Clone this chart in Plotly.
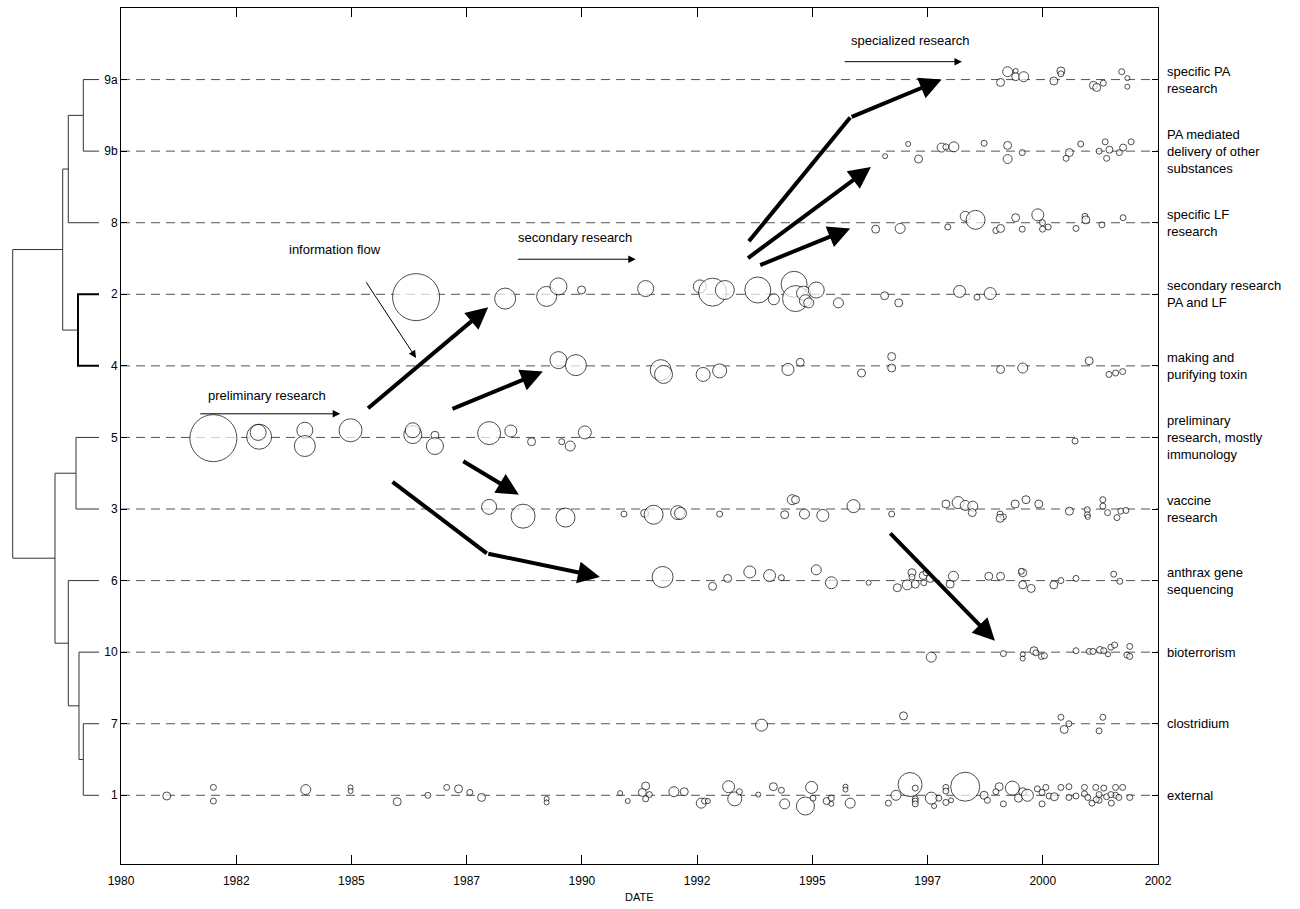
import numpy as np
import plotly.graph_objects as go

W, H = 1300, 909

# ---- categories (bottom to top) ----
ROW_CODES = ["1", "7", "10", "6", "3", "5", "4", "2", "8", "9b", "9a"]
ROW_TOPICS = [
    "external",
    "clostridium",
    "bioterrorism",
    "anthrax gene<br>sequencing",
    "vaccine<br>research",
    "preliminary<br>research, mostly<br>immunology",
    "making and<br>purifying toxin",
    "secondary research<br>PA and LF",
    "specific LF<br>research",
    "PA mediated<br>delivery of other<br>substances",
    "specific PA<br>research",
]

# ---- publications per cluster: date, vertical jitter (rows), bubble size ----
YEAR_9A = [1998.66, 1998.81, 1998.98, 1998.98, 1999.15, 1999.79, 1999.94, 1999.94, 2000.63, 2000.70, 2000.84, 2001.23, 2001.35, 2001.35]
DY_9A = [-0.04, 0.11, 0.12, 0.04, 0.04, -0.02, 0.12, 0.08, -0.08, -0.11, -0.05, 0.11, 0.02, -0.10]
SIZE_9A = [8, 10, 5, 8, 10, 8, 8, 6, 8, 8, 6, 6, 5, 5]

YEAR_9B = [1996.21, 1996.70, 1996.92, 1997.41, 1997.50, 1997.67, 1998.31, 1998.81, 1998.81, 1999.12, 2000.12, 2000.05, 2000.36, 2000.75, 2000.88, 2000.97, 2000.91, 2001.18, 2001.26, 2001.43]
DY_9B = [-0.07, 0.10, -0.11, 0.05, 0.06, 0.06, 0.11, 0.08, -0.11, -0.02, -0.02, -0.10, 0.10, 0.00, 0.13, 0.02, -0.10, -0.02, 0.05, 0.13]
SIZE_9B = [5, 5, 8, 9, 6, 10, 6, 8, 9, 6, 8, 6, 6, 6, 6, 7, 6, 6, 7, 6]

YEAR_8 = [1996.01, 1996.53, 1997.54, 1997.91, 1998.13, 1998.56, 1998.66, 1998.98, 1999.12, 1999.45, 1999.55, 1999.55, 1999.67, 2000.26, 2000.45, 2000.47, 2000.81, 2001.26]
DY_8 = [-0.09, -0.08, -0.06, 0.09, 0.04, -0.11, -0.08, 0.07, -0.09, 0.11, 0.00, -0.09, -0.06, -0.08, 0.09, 0.04, -0.03, 0.07]
SIZE_8 = [8, 10, 6, 10, 19, 6, 8, 8, 6, 12, 6, 6, 6, 6, 6, 8, 6, 6]

YEAR_2 = [1986.26, 1988.15, 1989.03, 1989.28, 1989.77, 1991.13, 1992.28, 1992.55, 1992.81, 1993.51, 1993.85, 1994.28, 1994.31, 1994.48, 1994.52, 1994.59, 1994.75, 1995.22, 1996.20, 1996.50, 1997.79, 1998.16, 1998.44]
DY_2 = [-0.04, -0.06, -0.03, 0.11, 0.06, 0.08, 0.11, 0.03, 0.06, 0.06, -0.07, 0.14, -0.06, 0.015, -0.09, -0.12, 0.06, -0.12, -0.02, -0.12, 0.04, -0.04, 0.01]
SIZE_2 = [47, 21, 20, 17, 8, 16, 13, 28, 19, 26, 11, 26, 26, 14, 12, 10, 16, 10, 8, 8, 12, 6, 12]

YEAR_4 = [1989.28, 1989.65, 1991.45, 1991.51, 1992.35, 1992.70, 1994.15, 1994.41, 1995.71, 1996.35, 1996.35, 1998.66, 1999.13, 2000.54, 2000.96, 2001.10, 2001.25]
DY_4 = [0.08, 0.01, -0.06, -0.12, -0.12, -0.07, -0.05, 0.05, -0.10, 0.13, -0.03, -0.05, -0.03, 0.07, -0.12, -0.10, -0.08]
SIZE_4 = [17, 21, 21, 18, 14, 14, 12, 8, 8, 8, 8, 8, 10, 8, 6, 6, 6]

YEAR_5 = [1981.96, 1982.93, 1982.91, 1983.90, 1983.90, 1984.87, 1986.19, 1986.19, 1986.66, 1986.66, 1987.81, 1988.27, 1988.71, 1989.35, 1989.53, 1989.84, 2000.24]
DY_5 = [-0.01, 0.01, 0.07, 0.10, -0.12, 0.10, 0.04, 0.10, 0.03, -0.12, 0.06, 0.09, -0.06, -0.06, -0.12, 0.07, -0.05]
SIZE_5 = [47, 25, 16, 16, 21, 23, 18, 15, 8, 17, 23, 12, 8, 6, 10, 13, 6]

YEAR_3 = [1987.81, 1988.53, 1989.43, 1990.67, 1991.11, 1991.30, 1991.81, 1991.87, 1992.70, 1994.08,
          1994.24, 1994.31, 1994.50, 1994.89, 1995.54, 1996.35, 1997.50, 1997.76, 1997.91, 1998.07,
          1998.06, 1998.65, 1998.72, 1998.65, 1998.97, 1999.20, 1999.47, 2000.12, 2000.50, 2000.50,
          2000.51, 2000.83, 2000.83, 2000.93, 2001.13, 2001.21, 2001.32]
DY_3 = [0.03, -0.10, -0.12, -0.07, -0.06, -0.08, -0.05, -0.06, -0.07, -0.08,
        0.13, 0.13, -0.07, -0.09, 0.04, -0.07, 0.07, 0.09, 0.05, 0.04,
        -0.05, -0.07, -0.11, -0.13, 0.07, 0.13, 0.07, -0.03, -0.01, -0.08,
        -0.11, 0.13, 0.04, -0.05, -0.12, -0.03, -0.02]
SIZE_3 = [15, 24, 19, 6, 8, 19, 14, 12, 6, 8,
          10, 8, 10, 12, 13, 6, 8, 12, 10, 10,
          8, 6, 6, 8, 8, 8, 8, 8, 6, 6,
          5, 6, 6, 6, 6, 6, 6]

YEAR_6 = [1991.49, 1992.55, 1992.87, 1993.34, 1993.76, 1994.01, 1994.75, 1995.07, 1995.86, 1996.47,
          1996.68, 1996.78, 1996.78, 1996.85, 1997.02, 1997.03, 1997.08, 1997.17, 1997.59, 1997.66,
          1998.41, 1998.66, 1999.13, 1999.10, 1999.13, 1999.31, 1999.79, 1999.94, 2000.26, 2001.06,
          2001.19]
DY_6 = [0.05, -0.08, 0.03, 0.12, 0.07, 0.04, 0.15, -0.03, -0.03, -0.10,
        -0.06, 0.11, 0.05, -0.05, 0.07, -0.03, 0.11, 0.03, -0.05, 0.06,
        0.06, 0.06, 0.11, 0.13, -0.06, -0.11, -0.06, 0.00, 0.03, 0.09,
        -0.01]
SIZE_6 = [21, 8, 8, 12, 12, 6, 10, 12, 5, 8,
          10, 8, 6, 8, 8, 6, 6, 8, 8, 10,
          8, 8, 8, 6, 8, 8, 8, 6, 6, 6,
          6]

YEAR_10 = [1997.19, 1998.72, 1999.13, 1999.13, 1999.37, 1999.41, 1999.53, 1999.59, 2000.26, 2000.54,
           2000.62, 2000.77, 2000.85, 2000.94, 2001.00, 2001.08, 2001.40, 2001.34, 2001.40]
DY_10 = [-0.07, -0.02, -0.03, -0.09, 0.02, -0.01, -0.06, -0.05, 0.02, 0.01,
         0.01, 0.03, 0.02, -0.03, 0.07, 0.10, 0.08, -0.04, -0.06]
SIZE_10 = [10, 6, 5, 5, 8, 6, 6, 6, 6, 6,
           6, 7, 6, 5, 6, 6, 6, 6, 6]

YEAR_7 = [1993.59, 1996.60, 1999.94, 2000.11, 2000.01, 2000.83, 2000.75]
DY_7 = [-0.02, 0.11, 0.09, 0.00, -0.08, 0.09, -0.10]
SIZE_7 = [12, 8, 6, 6, 8, 6, 6]

YEAR_1 = [1980.97, 1981.96, 1981.96, 1983.92, 1984.87, 1984.87, 1985.86, 1986.51, 1986.91, 1987.16,
          1987.40, 1987.65, 1989.03, 1989.03, 1990.59, 1990.75, 1991.13, 1991.06, 1991.21, 1991.13,
          1991.73, 1991.95, 1992.31, 1992.38, 1992.45, 1992.89, 1993.02, 1993.12, 1993.52, 1993.84,
          1994.01, 1994.08, 1994.65, 1994.52, 1994.68, 1994.97, 1995.07, 1995.07, 1995.37, 1995.37,
          1995.47, 1996.28, 1996.44, 1996.74, 1996.85, 1996.85, 1996.85, 1996.85, 1997.19, 1997.25,
          1997.35, 1997.50, 1997.50, 1997.50, 1997.61, 1997.91, 1998.31, 1998.38, 1998.63, 1998.56,
          1998.72, 1998.91, 1999.04, 1999.13, 1999.23, 1999.44, 1999.54, 1999.54, 1999.62, 1999.69,
          1999.80, 1999.94, 2000.11, 2000.11, 2000.26, 2000.44, 2000.44, 2000.51, 2000.60, 2000.68,
          2000.75, 2000.85, 2000.91, 2001.01, 2001.10, 2001.10, 2001.17, 2001.25, 2001.40, 2000.75,
          2000.69, 2001.00]
DY_1 = [-0.01, 0.11, -0.08, 0.08, 0.11, 0.06, -0.09, 0.00, 0.11, 0.09,
        0.04, -0.03, -0.05, -0.10, 0.03, -0.08, 0.13, 0.04, 0.01, -0.05,
        0.05, 0.05, -0.11, -0.08, -0.08, 0.12, -0.05, 0.05, 0.01, 0.12,
        0.07, -0.12, 0.11, -0.15, -0.04, -0.08, -0.04, -0.12, 0.12, 0.08,
        -0.11, -0.11, 0.00, 0.15, 0.10, -0.05, -0.08, -0.12, -0.04, -0.15,
        -0.04, 0.11, 0.06, -0.10, -0.07, 0.12, 0.00, -0.07, 0.12, 0.05,
        -0.12, 0.10, -0.04, 0.05, 0.00, 0.09, 0.04, -0.12, 0.11, -0.01,
        -0.02, 0.11, 0.12, -0.03, -0.01, 0.11, 0.02, -0.03, -0.11, 0.11,
        0.01, 0.10, -0.02, -0.11, 0.11, 0.00, -0.03, 0.11, -0.03, -0.07,
        -0.06, 0.01]
SIZE_1 = [8, 6, 6, 10, 5, 5, 8, 6, 6, 8,
          6, 8, 5, 5, 5, 5, 8, 8, 6, 6,
          10, 8, 10, 6, 5, 12, 14, 6, 5, 8,
          6, 10, 12, 18, 6, 7, 6, 5, 5, 5,
          10, 6, 10, 24, 6, 6, 6, 6, 12, 5,
          6, 6, 6, 6, 5, 29, 8, 6, 8, 6,
          6, 14, 8, 8, 12, 6, 6, 6, 6, 6,
          8, 6, 6, 6, 6, 6, 6, 6, 6, 6,
          6, 6, 6, 6, 6, 6, 6, 6, 6, 6,
          6, 6]

ROW_DATA = {
    "9a": (YEAR_9A, DY_9A, SIZE_9A),
    "9b": (YEAR_9B, DY_9B, SIZE_9B),
    "8": (YEAR_8, DY_8, SIZE_8),
    "2": (YEAR_2, DY_2, SIZE_2),
    "4": (YEAR_4, DY_4, SIZE_4),
    "5": (YEAR_5, DY_5, SIZE_5),
    "3": (YEAR_3, DY_3, SIZE_3),
    "6": (YEAR_6, DY_6, SIZE_6),
    "10": (YEAR_10, DY_10, SIZE_10),
    "7": (YEAR_7, DY_7, SIZE_7),
    "1": (YEAR_1, DY_1, SIZE_1),
}

# ---- cluster tree: (left, right, linkage distance, new node) ----
LINKAGE = [
    ("9a", "9b", 15.7, "n1"),
    ("n1", "8", 30.7, "n2"),
    ("2", "4", 21.0, "n3"),
    ("n2", "n3", 36.3, "n4"),
    ("5", "3", 23.0, "n5"),
    ("7", "1", 15.7, "n6"),
    ("10", "n6", 20.0, "n7"),
    ("6", "n7", 30.7, "n8"),
    ("n5", "n8", 44.0, "n9"),
    ("n4", "n9", 86.3, "root"),
]

# ---- time axis ----
X_MIN, X_MAX = 1980.0, 2002.0
X_TICKS = np.linspace(X_MIN, X_MAX, 10)
X_TICKTEXT = [str(int(round(v))) for v in X_TICKS]

FONT = "Liberation Sans, Arial, sans-serif"

fig = go.Figure()

level = {code: i + 1 for i, code in enumerate(ROW_CODES)}

# bubbles
for code in ROW_CODES:
    yrs, dy, sz = ROW_DATA[code]
    fig.add_trace(go.Scatter(
        x=yrs, y=[level[code] + d for d in dy], mode="markers",
        marker=dict(symbol="circle", size=sz, color="white",
                    line=dict(color="black", width=1)),
        xaxis="x", yaxis="y", showlegend=False, hoverinfo="skip"))

# dendrogram
node_y = dict(level)
node_h = {code: 0.0 for code in ROW_CODES}
for a, b, h, name in LINKAGE:
    ya, yb = node_y[a], node_y[b]
    heavy = (a, b) == ("2", "4")
    fig.add_trace(go.Scatter(
        x=[node_h[a], h, h, node_h[b]], y=[ya, ya, yb, yb], mode="lines",
        line=dict(color="black" if heavy else "#333333", width=2 if heavy else 1),
        xaxis="x2", yaxis="y", showlegend=False, hoverinfo="skip"))
    node_y[name] = (ya + yb) / 2
    node_h[name] = h

# dashed guide line for every cluster
for code in ROW_CODES:
    fig.add_shape(type="line", xref="x domain", yref="y", x0=0, x1=1,
                  y0=level[code], y1=level[code], layer="below",
                  line=dict(color="#555555", width=1, dash="9px,6px"))


def arrow(x0, y0, x1, y1, width, size):
    fig.add_annotation(x=x1, y=y1, ax=x0, ay=y0, xref="x", yref="y",
                       axref="x", ayref="y", text="", showarrow=True,
                       arrowhead=2, arrowsize=size, arrowwidth=width,
                       arrowcolor="black", standoff=0, startstandoff=0)


def bend(x0, y0, x1, y1):
    fig.add_trace(go.Scatter(x=[x0, x1], y=[y0, y1], mode="lines",
                             line=dict(color="black", width=4),
                             xaxis="x", yaxis="y", showlegend=False,
                             hoverinfo="skip"))


# thick flow arrows between clusters
arrow(1985.21, 6.39, 1987.79, 7.82, 4, 1.1)
arrow(1987.00, 6.39, 1988.95, 6.92, 4, 1.1)
arrow(1987.23, 5.68, 1988.44, 5.20, 4, 1.1)
bend(1985.76, 5.38, 1987.76, 4.38)
arrow(1987.76, 4.38, 1990.16, 4.05, 4, 1.1)
bend(1993.32, 8.74, 1995.47, 10.47)
arrow(1995.47, 10.47, 1997.41, 11.00, 4, 1.1)
arrow(1993.27, 8.49, 1995.91, 9.78, 4, 1.1)
arrow(1993.53, 8.40, 1995.47, 8.92, 4, 1.1)
arrow(1996.29, 4.68, 1998.54, 3.16, 4, 1.1)

# thin phase arrows
arrow(1981.65, 6.33, 1984.65, 6.33, 1, 1.5)
arrow(1988.39, 8.49, 1990.92, 8.49, 1, 1.5)
arrow(1995.32, 11.25, 1997.84, 11.25, 1, 1.5)
arrow(1985.18, 8.19, 1986.26, 7.11, 1, 1.5)

for txt, xx, yy in [("preliminary research", 1983.10, 6.59),
                    ("secondary research", 1989.63, 8.80),
                    ("specialized research", 1996.74, 11.54),
                    ("information flow", 1984.54, 8.62)]:
    fig.add_annotation(x=xx, y=yy, xref="x", yref="y", text=txt,
                       showarrow=False, font=dict(family=FONT, size=13, color="black"))

# topic names on the right
for code, topic in zip(ROW_CODES, ROW_TOPICS):
    fig.add_annotation(x=1165 / W, y=level[code], xref="paper", yref="y",
                       xanchor="left", yanchor="middle", align="left",
                       text=topic, showarrow=False,
                       font=dict(family=FONT, size=13, color="black"))

fig.add_annotation(x=639.5 / W, y=1 - 897 / H, xref="paper", yref="paper",
                   text="DATE", showarrow=False, xanchor="center", yanchor="middle",
                   font=dict(family=FONT, size=11, color="black"))

fig.update_layout(
    width=W, height=H,
    margin=dict(l=0, r=0, t=0, b=0),
    paper_bgcolor="white", plot_bgcolor="white",
    showlegend=False,
    xaxis=dict(domain=[121 / W, 1158 / W], range=[X_MIN, X_MAX],
               tickmode="array", tickvals=X_TICKS, ticktext=X_TICKTEXT,
               ticks="inside", ticklen=9, tickcolor="black", tickwidth=1,
               showline=True, linecolor="black", linewidth=1, mirror="ticks",
               showgrid=False, zeroline=False, automargin=False,
               ticklabelstandoff=6,
               tickfont=dict(family=FONT, size=12, color="black"), anchor="y"),
    yaxis=dict(domain=[1 - 864 / H, 1 - 8 / H], range=[0.04, 12.0],
               tickmode="array", tickvals=[level[c] for c in ROW_CODES],
               ticktext=ROW_CODES,
               ticks="inside", ticklen=6, tickcolor="black", tickwidth=1,
               showline=True, linecolor="black", linewidth=1, mirror="ticks",
               showgrid=False, zeroline=False, automargin=False,
               tickfont=dict(family=FONT, size=12, color="black"), anchor="x"),
    xaxis2=dict(domain=[0, 99 / W], range=[99, 0], visible=False,
                anchor="y", showgrid=False, zeroline=False),
)

fig.write_html("out.html")
